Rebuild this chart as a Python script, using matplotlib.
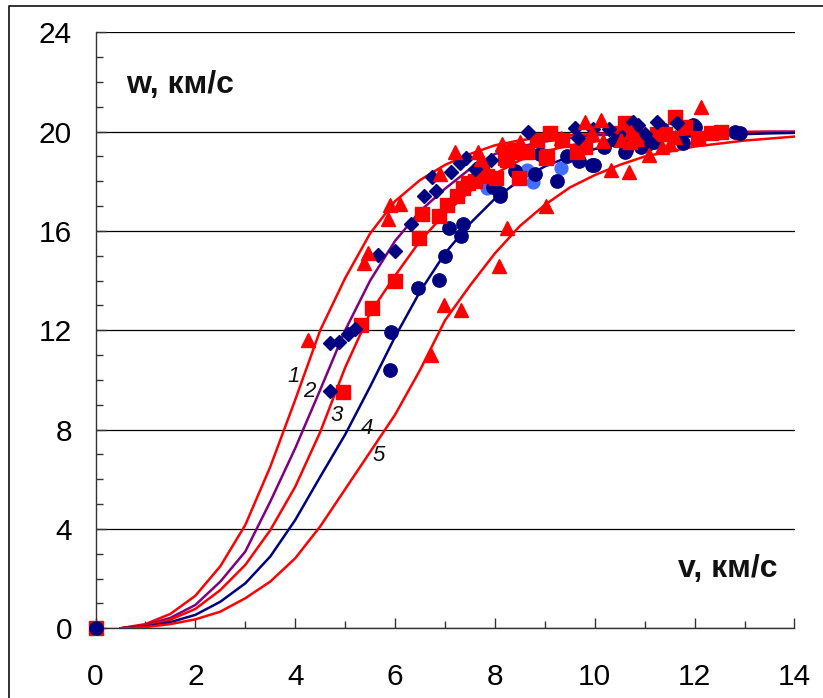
import matplotlib
matplotlib.use("Agg")
import matplotlib.pyplot as plt
from matplotlib.lines import Line2D

plt.rcParams['font.family'] = ['Liberation Sans', 'DejaVu Sans']

# ---- model curves (sampled at v = 0.5 ... 14) ----
v_curve = [0.5, 1.0, 1.5, 2.0, 2.5, 3.0, 3.5, 4.0, 4.5, 5.0, 5.5, 6.0, 6.5, 7.0,
           7.5, 8.0, 8.5, 9.0, 9.5, 10.0, 10.5, 11.0, 11.5, 12.0, 12.5, 13.0, 13.5, 14.0]
curve1 = [0, 0.17, 0.58, 1.31, 2.5, 4.16, 6.5, 9.2, 12.0, 14.1, 15.9, 17.2, 18.05, 18.66,
          19.1, 19.45, 19.65, 19.78, 19.86, 19.91, 19.94, 19.96, 19.97, 19.98, 19.99, 19.99, 20.0, 20.0]
curve2 = [0, 0.13, 0.42, 0.94, 1.88, 3.09, 5.1, 7.25, 9.6, 12.0, 14.0, 15.6, 16.8, 17.7,
          18.5, 19.1, 19.4, 19.6, 19.75, 19.85, 19.9, 19.93, 19.95, 19.96, 19.97, 19.98, 19.99, 19.99]
curve3 = [0, 0.1, 0.35, 0.78, 1.54, 2.55, 3.95, 5.7, 7.9, 10.5, 12.7, 14.2, 15.6, 16.7,
          17.6, 18.3, 18.85, 19.2, 19.45, 19.6, 19.72, 19.8, 19.86, 19.9, 19.93, 19.95, 19.97, 19.98]
curve4 = [0, 0.07, 0.25, 0.54, 1.07, 1.81, 2.89, 4.36, 6.1, 7.8, 9.73, 11.74, 13.56, 15.1,
          16.3, 17.3, 18.05, 18.6, 19.0, 19.3, 19.5, 19.65, 19.75, 19.82, 19.87, 19.9, 19.93, 19.95]
curve5 = [0, 0.05, 0.17, 0.36, 0.67, 1.21, 1.88, 2.82, 4.1, 5.6, 7.1, 8.6, 10.4, 12.4,
          13.8, 15.1, 16.2, 17.05, 17.75, 18.25, 18.66, 19.0, 19.2, 19.4, 19.52, 19.64, 19.72, 19.8]
curve_labels = ['1', '2', '3', '4', '5']
label_x = [3.97, 4.29, 4.84, 5.43, 5.67]
label_y = [10.13, 9.53, 8.55, 8.05, 6.94]

# ---- measured points ----
origin_x = [0]
origin_y = [0]

tri_x = [4.25, 5.37, 5.46, 5.85, 5.9, 6.1, 6.9, 7.2, 7.66, 6.71, 6.97, 7.33, 8.09, 8.25,
         9.02, 8.51, 7.72, 9.81, 10.13, 9.95, 10.17, 10.52, 10.72, 11.09, 11.35, 11.6,
         12.13, 10.32, 10.69, 9.32, 8.15, 10.85, 11.5]
tri_y = [11.6, 14.7, 15.1, 16.5, 17.05, 17.1, 18.3, 19.2, 19.2, 11.0, 13.0, 12.8, 14.6, 16.1,
         17.0, 19.6, 18.9, 20.4, 20.47, 19.96, 19.63, 19.65, 20.0, 19.06, 19.4, 19.8,
         21.0, 18.46, 18.39, 19.73, 19.5, 19.7, 19.5]

dia_x = [4.69, 4.87, 5.05, 5.2, 4.69, 5.66, 6.0, 6.32, 6.58, 6.82, 6.73, 7.13, 7.3, 7.42,
         7.6, 7.93, 8.67, 9.6, 9.97, 10.29, 10.39, 10.77, 10.87, 11.24, 11.13, 11.64, 9.66,
         10.55, 11.0]
dia_y = [11.48, 11.52, 11.87, 12.05, 9.54, 15.03, 15.21, 16.27, 17.4, 17.61, 18.19, 18.39,
         18.74, 18.92, 18.48, 18.87, 20.0, 20.14, 20.09, 20.09, 19.67, 20.4, 20.27, 20.4,
         19.55, 20.34, 19.73, 19.8, 19.9]

cir_x = [5.89, 5.92, 6.45, 6.87, 6.99, 7.08, 7.32, 7.36, 7.97, 8.1, 8.11, 8.81, 9.24,
         9.45, 9.68, 9.94, 9.99, 10.18, 10.6, 10.62, 10.92, 11.13, 11.19, 11.34, 11.76,
         11.97, 12.0, 12.8, 12.9, 8.4, 8.9]
cir_y = [10.4, 11.93, 13.72, 14.03, 15.01, 16.11, 15.78, 16.29, 17.76, 17.4, 17.52, 18.3,
         18.03, 19.0, 18.8, 18.65, 18.66, 19.37, 19.19, 19.26, 19.37, 19.64, 19.6, 20.09,
         19.55, 20.27, 20.2, 20.0, 19.94, 18.4, 19.1]

lb_x = [7.84, 8.65, 8.76, 9.32]
lb_y = [17.72, 18.46, 17.96, 18.52]

sq_x = [4.95, 5.32, 5.53, 6.0, 6.47, 6.53, 6.87, 7.04, 7.24, 7.36, 7.46, 7.6, 7.74, 7.85,
        8.03, 8.21, 8.25, 8.38, 8.48, 8.45, 8.65, 8.85, 9.05, 9.1, 9.35, 9.65, 9.81, 10.52,
        10.6, 10.72, 10.87, 11.24, 11.6, 11.8, 12.06, 12.33, 12.53, 9.02, 10.71, 11.4]
sq_y = [9.51, 12.2, 12.88, 13.99, 15.7, 16.68, 16.6, 17.05, 17.4, 17.75, 17.94, 18.03,
        18.45, 18.2, 18.12, 18.93, 18.85, 19.26, 18.12, 19.19, 19.2, 19.67, 19.0, 19.93,
        19.67, 19.2, 19.37, 19.93, 20.36, 20.2, 19.82, 19.91, 20.6, 20.2, 19.73, 19.93,
        20.0, 18.95, 19.6, 19.9]

x_ticks = [0, 2, 4, 6, 8, 10, 12, 14]
y_ticks = [0, 4, 8, 12, 16, 20, 24]

RED = '#FF0000'
NAVY = '#000080'
PURPLE = '#800080'
LBLUE = '#3F6FFF'

fig = plt.figure(figsize=(8.23, 6.98), dpi=100)
ax = fig.add_axes([95.5 / 823, 69.7 / 698, 699 / 823, 596 / 698])

curves = [curve1, curve2, curve3, curve4, curve5]
colors = [RED, PURPLE, RED, NAVY, RED]
for c, col in zip(curves, colors):
    ax.plot(v_curve, c, color=col, lw=1.8, zorder=3, solid_joinstyle='miter')

ms_kw = dict(linestyle='none', clip_on=False)
ax.plot(origin_x, origin_y, marker='s', ms=9.5, color=RED, zorder=4, **ms_kw)
ax.plot(origin_x, origin_y, marker='o', ms=9.6, color=NAVY, zorder=4, **ms_kw)
ax.plot(lb_x, lb_y, marker='o', ms=9.2, color=LBLUE, zorder=4, **ms_kw)
ax.plot(cir_x, cir_y, marker='o', ms=9.6, color=NAVY, zorder=5, **ms_kw)
ax.plot(sq_x, sq_y, marker='s', ms=9.5, color=RED, zorder=6, **ms_kw)
ax.plot(dia_x, dia_y, marker='D', ms=6.8, color=NAVY, zorder=7, **ms_kw)
ax.plot(tri_x, tri_y, marker='^', ms=9.8, color=RED, zorder=8, **ms_kw)

for t, lx, ly in zip(curve_labels, label_x, label_y):
    ax.text(lx, ly, t, fontsize=16, style='italic', ha='center', va='center',
            color='#111111', zorder=9)

ax.text(0.62, 21.55, 'w, км/с', fontsize=23, fontweight='bold', ha='left',
        va='baseline', color='#111111')
ax.text(11.67, 2.07, 'v, км/с', fontsize=23, fontweight='bold', ha='left',
        va='baseline', color='#111111')

ax.set_xlim(0, 14)
ax.set_ylim(0, 24)
ax.set_xticks(x_ticks)
ax.set_yticks(y_ticks)
ax.set_xticks([1, 3, 5, 7, 9, 11, 13], minor=True)
ax.set_yticks([v for v in range(25) if v % 4 != 0], minor=True)
ax.set_xticklabels([str(v) for v in x_ticks])
ax.set_yticklabels([str(v) for v in y_ticks])
ax.tick_params(axis='both', which='major', direction='in', length=7, width=1,
               color='#333333', labelsize=21.5, labelcolor='black')
ax.tick_params(axis='both', which='minor', direction='in', length=5, width=1,
               color='#333333')
ax.tick_params(axis='x', which='major', pad=25)
ax.tick_params(axis='y', which='major', pad=17)

ax.grid(axis='y', which='major', color='black', lw=0.9)
ax.set_axisbelow(True)
for s in ['top', 'right']:
    ax.spines[s].set_visible(False)
for s in ['left', 'bottom']:
    ax.spines[s].set_color('#333333')
    ax.spines[s].set_linewidth(1.0)

# outer frame (left and top edges visible)
fx = 8.5 / 823
fy = 1 - 5.5 / 698
fig.add_artist(Line2D([fx, fx, 1.0], [0.0, fy, fy], transform=fig.transFigure,
                      color='#222222', lw=1.3))

fig.savefig('out.png', dpi=100)
